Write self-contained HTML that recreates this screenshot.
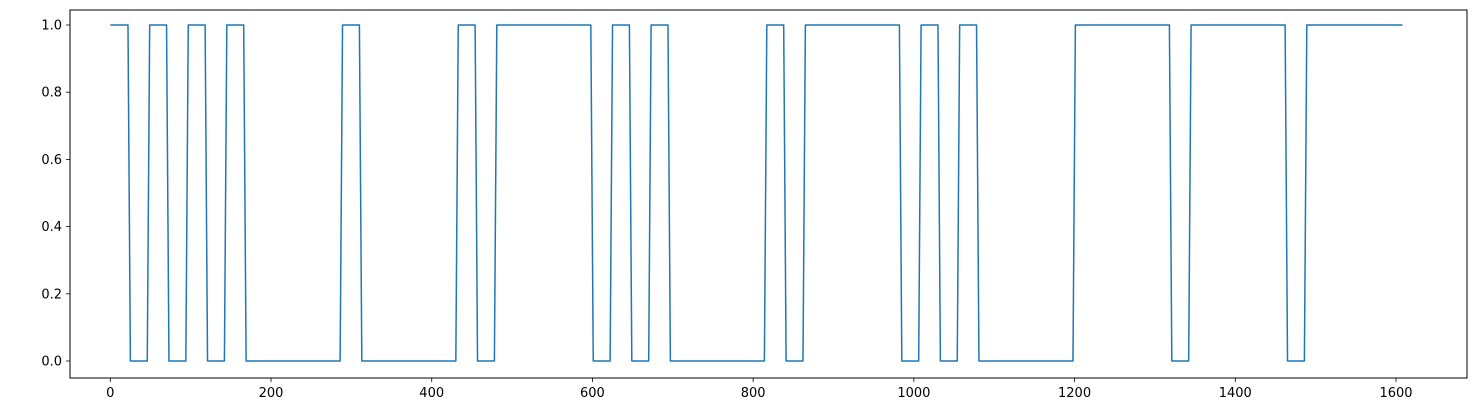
<!DOCTYPE html>
<html><head><meta charset="utf-8">
<style>
html,body{margin:0;padding:0;background:#fff;}
svg{display:block;font-family:"DejaVu Sans","Liberation Sans",sans-serif;}
</style></head>
<body>
<svg id="chart" width="1478" height="405"></svg>
<script>
// Data: runs of 24-unit blocks
const blockSize = 24;
const runValues = [1,0,1,0,1,0,1,0,1,0,1,0,1,0,1,0,1,0,1,0,1,0,1,0,1,0,1,0,1,0,1];
const runLengths = [1,1,1,1,1,1,1,5,1,5,1,1,5,1,1,1,1,5,1,1,5,1,1,1,1,5,5,1,5,1,5];
const xTicks = [0,200,400,600,800,1000,1200,1400,1600];
const yTicks = [0.0,0.2,0.4,0.6,0.8,1.0];

const NS="http://www.w3.org/2000/svg";
const svg=document.getElementById('chart');
const L=70,R=1467,T=10,B=378;
const xs=v=>110.3+v*(1396-110.3)/1600;
const ys=v=>361-v*(361-25);
function mk(tag,attrs){const e=document.createElementNS(NS,tag);for(const k in attrs)e.setAttribute(k,attrs[k]);svg.appendChild(e);return e;}

// series
let pts=[];let t=0;
for(let i=0;i<runValues.length;i++){
  const end=t+runLengths[i]*blockSize;
  pts.push([t===0?t:t+1,runValues[i]]);
  pts.push([i===runValues.length-1?end:end-2,runValues[i]]);
  t=end;
}
const line=mk('polyline',{points:pts.map(p=>xs(p[0]).toFixed(2)+','+ys(p[1]).toFixed(2)).join(' '),fill:'none',stroke:'#1f77b4','stroke-width':1.5,'stroke-linejoin':'round'});



// frame
const frame=mk('rect',{x:L,y:T,width:R-L,height:B-T,fill:'none',stroke:'#000','stroke-width':1});



xTicks.forEach(v=>{
  const x=xs(v);
  const tk=mk('line',{x1:x,x2:x,y1:B,y2:B+4,stroke:'#000','stroke-width':0.8});
  
  
  const tx=mk('text',{x:x,y:B+19,'text-anchor':'middle','font-size':13,fill:'#000'});
  tx.textContent=String(v);
  
  
});
yTicks.forEach(v=>{
  const y=ys(v);
  const tk=mk('line',{x1:L-4,x2:L,y1:y,y2:y,stroke:'#000','stroke-width':0.8});
  
  
  const tx=mk('text',{x:L-8,y:y+4.5,'text-anchor':'end','font-size':13,fill:'#000'});
  tx.textContent=v.toFixed(1);
  
  
});
</script>
</body></html>
